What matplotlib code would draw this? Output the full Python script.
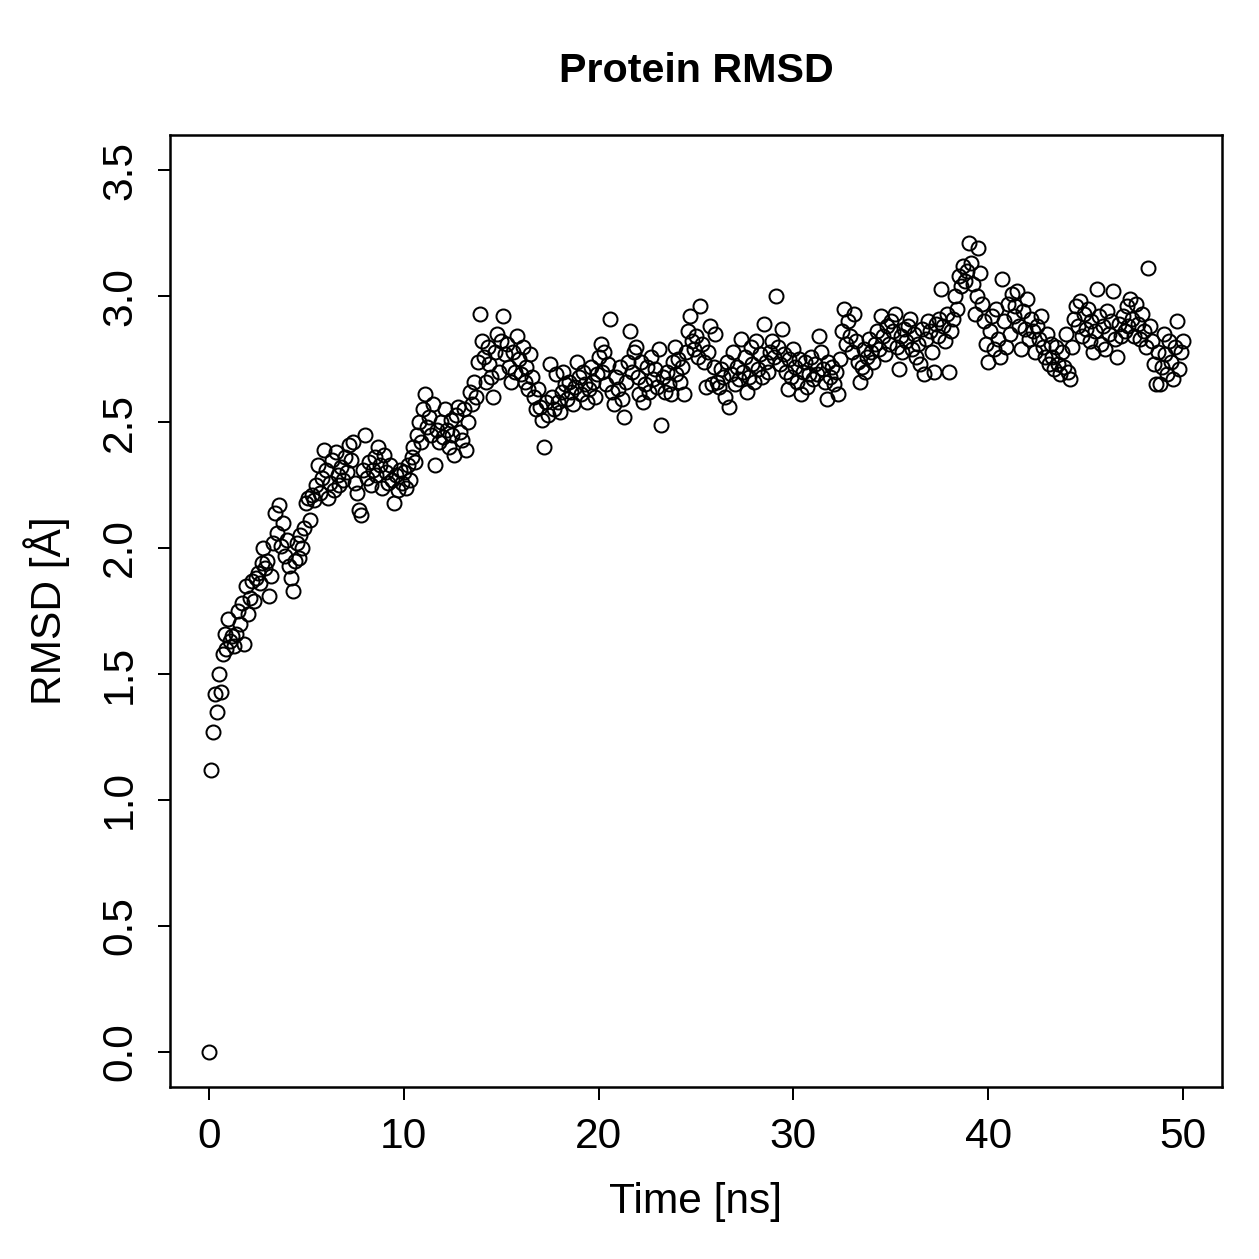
import matplotlib
matplotlib.use("Agg")
import matplotlib.pyplot as plt
import numpy as np

plt.rcParams["font.family"] = ["Liberation Sans", "DejaVu Sans"]

# RMSD values, one every 0.1 ns
rmsd_00_10 = [
    0.00, 1.12, 1.27, 1.42, 1.35, 1.50, 1.43, 1.58, 1.66, 1.60,
    1.72, 1.63, 1.65, 1.61, 1.66, 1.75, 1.70, 1.78, 1.62, 1.85,
    1.74, 1.80, 1.87, 1.79, 1.88, 1.90, 1.86, 1.94, 2.00, 1.92,
    1.95, 1.81, 1.89, 2.02, 2.14, 2.06, 2.17, 2.01, 2.10, 1.97,
    2.03, 1.93, 1.88, 1.83, 1.95, 2.02, 1.96, 2.05, 2.00, 2.08,
    2.18, 2.20, 2.11, 2.21, 2.19, 2.25, 2.33, 2.22, 2.28, 2.39,
    2.31, 2.20, 2.26, 2.35, 2.23, 2.38, 2.29, 2.25, 2.32, 2.27,
    2.36, 2.30, 2.41, 2.35, 2.42, 2.26, 2.22, 2.15, 2.13, 2.31,
    2.45, 2.28, 2.34, 2.25, 2.31, 2.36, 2.29, 2.40, 2.33, 2.24,
    2.37, 2.30, 2.26, 2.33, 2.27, 2.18, 2.29, 2.23, 2.31, 2.26,
]
rmsd_10_20 = [
    2.30, 2.24, 2.33, 2.27, 2.36, 2.40, 2.34, 2.45, 2.50, 2.42,
    2.55, 2.61, 2.48, 2.52, 2.45, 2.57, 2.33, 2.47, 2.42, 2.50,
    2.44, 2.55, 2.47, 2.40, 2.51, 2.45, 2.37, 2.53, 2.56, 2.46,
    2.43, 2.55, 2.39, 2.50, 2.62, 2.57, 2.66, 2.60, 2.74, 2.93,
    2.82, 2.76, 2.66, 2.80, 2.73, 2.68, 2.60, 2.78, 2.85, 2.70,
    2.82, 2.92, 2.77, 2.81, 2.72, 2.66, 2.78, 2.70, 2.84, 2.75,
    2.69, 2.80, 2.66, 2.72, 2.63, 2.77, 2.68, 2.60, 2.55, 2.63,
    2.56, 2.51, 2.40, 2.58, 2.53, 2.73, 2.60, 2.55, 2.69, 2.58,
    2.54, 2.62, 2.70, 2.65, 2.59, 2.66, 2.62, 2.57, 2.64, 2.74,
    2.68, 2.61, 2.70, 2.65, 2.58, 2.63, 2.72, 2.66, 2.60, 2.69,
]
rmsd_20_30 = [
    2.76, 2.81, 2.70, 2.78, 2.65, 2.73, 2.91, 2.62, 2.57, 2.68,
    2.63, 2.72, 2.59, 2.52, 2.66, 2.74, 2.86, 2.70, 2.78, 2.80,
    2.68, 2.61, 2.74, 2.58, 2.65, 2.72, 2.62, 2.76, 2.67, 2.71,
    2.64, 2.79, 2.49, 2.68, 2.62, 2.70, 2.65, 2.61, 2.74, 2.80,
    2.69, 2.75, 2.66, 2.72, 2.61, 2.78, 2.86, 2.92, 2.82, 2.79,
    2.84, 2.76, 2.96, 2.81, 2.74, 2.64, 2.78, 2.88, 2.65, 2.72,
    2.85, 2.66, 2.64, 2.71, 2.68, 2.60, 2.74, 2.56, 2.69, 2.78,
    2.65, 2.72, 2.67, 2.83, 2.70, 2.76, 2.62, 2.68, 2.80, 2.73,
    2.66, 2.82, 2.71, 2.77, 2.68, 2.89, 2.74, 2.70, 2.78, 2.82,
    2.76, 3.00, 2.80, 2.73, 2.87, 2.77, 2.70, 2.63, 2.75, 2.68,
]
rmsd_30_40 = [
    2.79, 2.72, 2.66, 2.75, 2.61, 2.70, 2.74, 2.64, 2.69, 2.76,
    2.67, 2.73, 2.69, 2.84, 2.78, 2.71, 2.66, 2.59, 2.74, 2.68,
    2.72, 2.65, 2.70, 2.61, 2.75, 2.86, 2.95, 2.81, 2.90, 2.84,
    2.78, 2.93, 2.82, 2.74, 2.66, 2.72, 2.79, 2.70, 2.76, 2.83,
    2.78, 2.74, 2.81, 2.86, 2.79, 2.92, 2.84, 2.77, 2.88, 2.81,
    2.90, 2.86, 2.93, 2.80, 2.71, 2.84, 2.78, 2.87, 2.82, 2.88,
    2.91, 2.79, 2.85, 2.76, 2.81, 2.73, 2.87, 2.69, 2.83, 2.90,
    2.86, 2.78, 2.70, 2.89, 2.84, 2.91, 3.03, 2.88, 2.82, 2.93,
    2.70, 2.86, 2.91, 3.00, 2.95, 3.08, 3.04, 3.12, 3.06, 3.10,
    3.21, 3.13, 3.05, 2.93, 3.00, 3.19, 3.09, 2.97, 2.90, 2.81,
]
rmsd_40_50 = [
    2.74, 2.86, 2.92, 2.79, 2.95, 2.83, 2.76, 3.07, 2.90, 2.80,
    2.97, 2.85, 3.01, 2.92, 2.96, 3.02, 2.88, 2.79, 2.94, 2.87,
    2.99, 2.83, 2.91, 2.86, 2.78, 2.88, 2.83, 2.92, 2.80, 2.76,
    2.85, 2.73, 2.81, 2.76, 2.71, 2.80, 2.73, 2.69, 2.78, 2.72,
    2.85, 2.70, 2.67, 2.80, 2.91, 2.96, 2.88, 2.98, 2.84, 2.93,
    2.87, 2.95, 2.82, 2.90, 2.78, 2.86, 3.03, 2.92, 2.81, 2.88,
    2.79, 2.94, 2.85, 2.90, 3.02, 2.83, 2.76, 2.89, 2.84, 2.92,
    2.86, 2.96, 2.88, 2.99, 2.91, 2.84, 2.97, 2.89, 2.83, 2.93,
    2.86, 2.80, 3.11, 2.88, 2.82, 2.73, 2.65, 2.78, 2.65, 2.72,
    2.85, 2.77, 2.69, 2.82, 2.74, 2.67, 2.80, 2.90, 2.71, 2.78,
    2.82,
]

rmsd = rmsd_00_10 + rmsd_10_20 + rmsd_20_30 + rmsd_30_40 + rmsd_40_50
time_ns = np.arange(len(rmsd)) * 0.1

x_ticks = [0, 10, 20, 30, 40, 50]
y_ticks = [0.0, 0.5, 1.0, 1.5, 2.0, 2.5, 3.0, 3.5]

fig = plt.figure(figsize=(1259 / 180, 1259 / 180), dpi=180)
ax = fig.add_axes([0.135, 0.1366, 0.8356, 0.7562])

ax.plot(time_ns, rmsd, linestyle="none", marker="o", markersize=5.6,
        markerfacecolor="none", markeredgecolor="black", markeredgewidth=0.8)

ax.set_xlim(-2, 52)
ax.set_ylim(-0.14, 3.64)
ax.set_xticks(x_ticks)
ax.set_xticklabels([str(v) for v in x_ticks])
ax.set_yticks(y_ticks)
ax.set_yticklabels(["%.1f" % v for v in y_ticks], rotation=90, va="center")

ax.tick_params(direction="out", length=5, width=0.8, labelsize=17, pad=7)
for sp in ax.spines.values():
    sp.set_linewidth(1.0)

ax.set_xlabel("Time [ns]", fontsize=17, labelpad=10)
ax.set_ylabel("RMSD [Å]", fontsize=17, labelpad=12)
fig.text(0.553, 0.944, "Protein RMSD", ha="center", va="center",
         fontsize=16.5, fontweight="bold")

fig.savefig("out.png", dpi=180)
